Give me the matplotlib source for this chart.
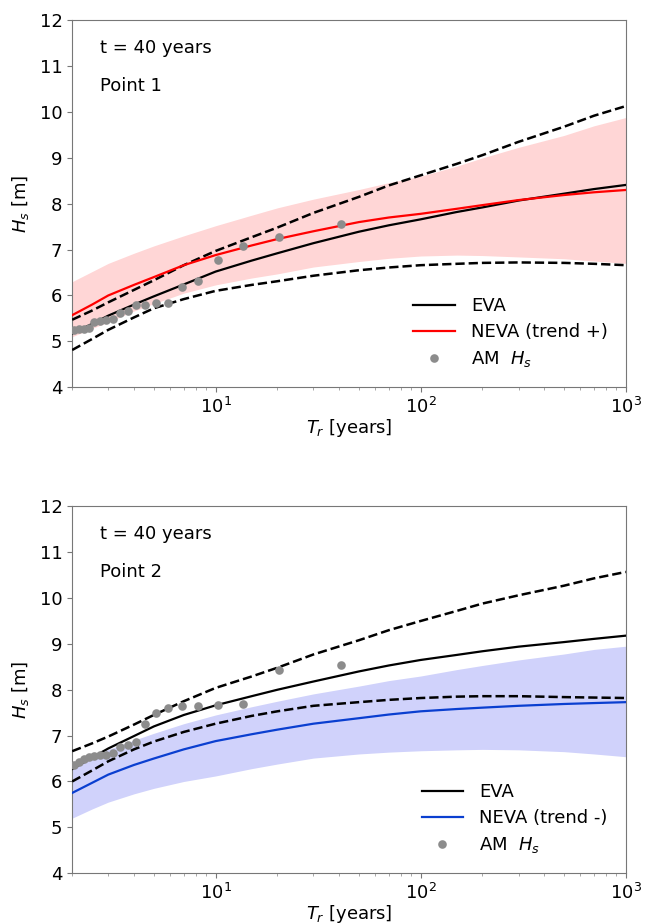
import numpy as np
import matplotlib
matplotlib.use("Agg")
import matplotlib.pyplot as plt

tr_curve = [2, 2.5, 3, 4, 5, 7, 10, 15, 20, 30, 50, 70, 100, 150, 200,
            300, 500, 700, 1000]

# Point 1 (trend +)
eva1 = [5.17, 5.38, 5.56, 5.80, 5.98, 6.24, 6.52, 6.76, 6.92, 7.14, 7.39,
        7.53, 7.66, 7.82, 7.92, 8.07, 8.22, 8.32, 8.41]
eva1_hi = [5.47, 5.67, 5.85, 6.12, 6.33, 6.66, 6.97, 7.27, 7.48, 7.80, 8.15,
           8.40, 8.62, 8.87, 9.06, 9.35, 9.68, 9.92, 10.13]
eva1_lo = [4.81, 5.05, 5.25, 5.52, 5.72, 5.92, 6.10, 6.23, 6.31, 6.43, 6.55,
           6.61, 6.66, 6.69, 6.71, 6.72, 6.71, 6.69, 6.66]
neva1 = [5.57, 5.80, 6.00, 6.23, 6.40, 6.66, 6.88, 7.09, 7.23, 7.40, 7.60,
         7.70, 7.78, 7.89, 7.97, 8.08, 8.19, 8.25, 8.30]
neva1_hi = [6.30, 6.52, 6.70, 6.92, 7.08, 7.30, 7.52, 7.75, 7.91, 8.10, 8.31,
            8.46, 8.60, 8.82, 9.00, 9.23, 9.49, 9.70, 9.88]
neva1_lo = [5.10, 5.28, 5.42, 5.66, 5.82, 6.05, 6.23, 6.38, 6.47, 6.62, 6.74,
            6.81, 6.86, 6.88, 6.87, 6.84, 6.80, 6.75, 6.70]

# Point 2 (trend -)
eva2 = [6.27, 6.52, 6.72, 6.99, 7.20, 7.45, 7.66, 7.86, 8.00, 8.18, 8.40,
        8.53, 8.65, 8.76, 8.84, 8.94, 9.04, 9.11, 9.18]
eva2_hi = [6.66, 6.83, 6.98, 7.24, 7.45, 7.75, 8.04, 8.29, 8.48, 8.77, 9.08,
           9.30, 9.50, 9.72, 9.88, 10.06, 10.27, 10.43, 10.57]
eva2_lo = [6.00, 6.24, 6.44, 6.70, 6.87, 7.08, 7.26, 7.43, 7.53, 7.65, 7.73,
           7.78, 7.82, 7.85, 7.86, 7.86, 7.84, 7.83, 7.82]
neva2 = [5.75, 5.97, 6.15, 6.36, 6.50, 6.70, 6.88, 7.03, 7.13, 7.26, 7.38,
         7.46, 7.53, 7.58, 7.61, 7.65, 7.69, 7.71, 7.73]
neva2_hi = [6.30, 6.52, 6.70, 6.90, 7.05, 7.26, 7.45, 7.63, 7.75, 7.91, 8.08,
            8.20, 8.30, 8.44, 8.53, 8.65, 8.78, 8.88, 8.95]
neva2_lo = [5.20, 5.40, 5.55, 5.73, 5.85, 6.00, 6.12, 6.28, 6.38, 6.51, 6.60,
            6.64, 6.67, 6.69, 6.70, 6.69, 6.65, 6.60, 6.54]

# annual maxima, ranked (largest first); Weibull plotting position, 40 years
n_years = 40
am1 = [7.56, 7.28, 7.07, 6.78, 6.32, 6.19, 5.83, 5.83, 5.80, 5.79,
       5.66, 5.62, 5.48, 5.46, 5.44, 5.42, 5.30, 5.27, 5.27, 5.24]
am2 = [8.54, 8.43, 7.70, 7.67, 7.65, 7.64, 7.60, 7.49, 7.25, 6.87,
       6.80, 6.76, 6.62, 6.58, 6.57, 6.55, 6.53, 6.48, 6.43, 6.36]
tr_am = [(n_years + 1) / m for m in range(1, len(am1) + 1)]

FS = 13
plt.rcParams["font.family"] = "DejaVu Sans"
plt.rcParams["font.size"] = FS


def panel(ax, eva, eva_hi, eva_lo, neva, neva_hi, neva_lo, am,
          color, fill, label, point):
    ax.fill_between(tr_curve, neva_lo, neva_hi, color=fill, lw=0, zorder=1)
    ax.plot(tr_curve, eva, color="black", lw=1.6, label="EVA", zorder=3)
    ax.plot(tr_curve, eva_hi, color="black", lw=1.8, ls="--", zorder=3)
    ax.plot(tr_curve, eva_lo, color="black", lw=1.8, ls="--", zorder=3)
    ax.plot(tr_curve, neva, color=color, lw=1.6, label=label, zorder=3)
    ax.plot(tr_am, am, "o", color="#8c8c8c", ms=6.2, mec="none",
            label="AM  $H_s$", zorder=4)
    ax.set_xscale("log")
    ax.set_xlim(2, 1000)
    ax.set_ylim(4, 12)
    ax.set_yticks(range(4, 13))
    ax.set_xlabel("$T_r$ [years]", fontsize=FS, labelpad=0)
    ax.set_ylabel("$H_s$ [m]", fontsize=FS, labelpad=6)
    ax.text(0.05, 0.925, "t = 40 years", transform=ax.transAxes,
            fontsize=FS, va="center")
    ax.text(0.05, 0.82, point, transform=ax.transAxes,
            fontsize=FS, va="center")
    ax.legend(loc="lower right", frameon=False, fontsize=FS,
              handlelength=2.3, handletextpad=0.9, labelspacing=0.45,
              borderaxespad=0.6)
    for s in ax.spines.values():
        s.set_color("#777777")
    ax.tick_params(colors="#777777", labelcolor="black", labelsize=FS)
    ax.tick_params(which="minor", colors="#999999")


fig = plt.figure(figsize=(6.56, 9.24), dpi=100)
ax1 = fig.add_axes([0.110, 0.581, 0.844, 0.397])
ax2 = fig.add_axes([0.110, 0.055, 0.844, 0.397])

panel(ax1, eva1, eva1_hi, eva1_lo, neva1, neva1_hi, neva1_lo, am1,
      "#ff0000", "#ffd6d6", "NEVA (trend +)", "Point 1")
panel(ax2, eva2, eva2_hi, eva2_lo, neva2, neva2_hi, neva2_lo, am2,
      "#0a3fd0", "#d0d2fb", "NEVA (trend -)", "Point 2")

fig.savefig("out.png", dpi=100)
